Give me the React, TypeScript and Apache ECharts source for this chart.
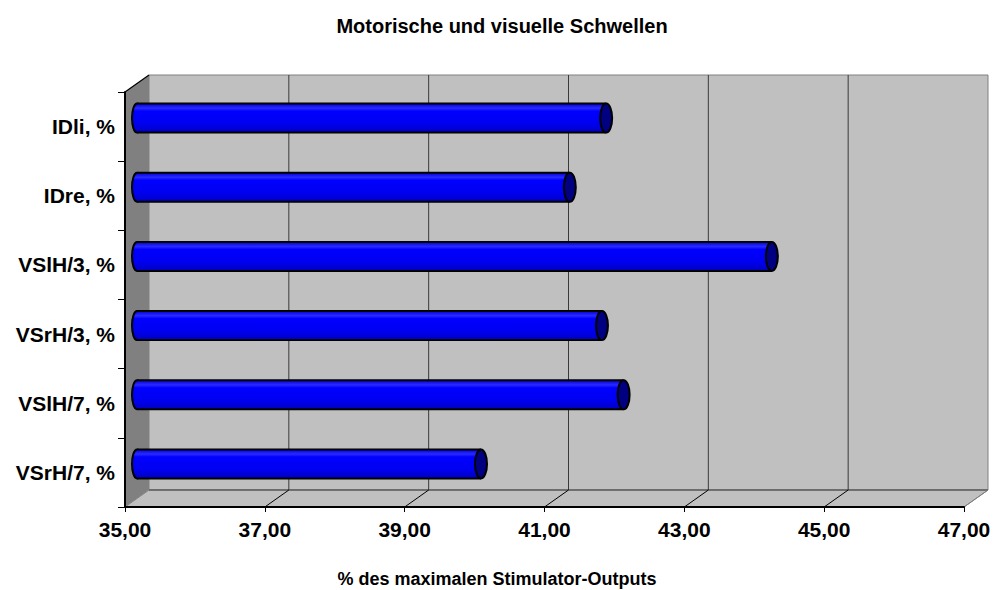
import React, { useEffect, useRef } from 'react';
import * as echarts from 'echarts';

// Threshold measurements per stimulation site (in % of max. stimulator output)
const categories = ['IDli, %', 'IDre, %', 'VSlH/3, %', 'VSrH/3, %', 'VSlH/7, %', 'VSrH/7, %'];
const thresholds = [41.71, 41.19, 44.08, 41.65, 41.96, 39.92];

// Value axis range
const X_MIN = 35;
const X_MAX = 47;
const X_STEP = 2;

const chartTitle = 'Motorische und visuelle Schwellen';
const axisTitle = '% des maximalen Stimulator-Outputs';

// Depth offset of the pseudo-3D box
const DX = 24;
const DY = -17;
const FONT = '"Liberation Sans", Arial, Helvetica, sans-serif';

const fmt = (v: number) => v.toFixed(2).replace('.', ',');

export default function App() {
  const ref = useRef<HTMLDivElement>(null);

  useEffect(() => {
    if (!ref.current) return;
    const chart = echarts.init(ref.current, undefined, { renderer: 'svg' });

    const barFill = new echarts.graphic.LinearGradient(0, 0, 0, 1, [
      { offset: 0, color: '#0000d8' },
      { offset: 0.16, color: '#2a2aff' },
      { offset: 0.26, color: '#0000ff' },
      { offset: 0.7, color: '#0000f0' },
      { offset: 1, color: '#0000c0' },
    ]);

    const option: any = {
      animation: false,
      backgroundColor: '#ffffff',
      grid: {
        left: 125,
        top: 92,
        width: 839,
        height: 415,
        containLabel: false,
        outerBoundsMode: 'none',
      },
      xAxis: {
        type: 'value',
        min: X_MIN,
        max: X_MAX,
        interval: X_STEP,
        z: 10,
        axisLine: { show: true, lineStyle: { color: '#000', width: 2 } },
        axisTick: { show: true, length: 5, lineStyle: { color: '#000', width: 1 } },
        splitLine: { show: false },
        axisLabel: {
          formatter: (v: number) => fmt(v),
          fontSize: 21,
          fontWeight: 'bold',
          fontFamily: FONT,
          color: '#000',
          margin: 12,
        },
      },
      yAxis: {
        type: 'category',
        data: categories,
        inverse: true,
        z: 10,
        axisLine: { show: true, lineStyle: { color: '#000', width: 2 } },
        axisTick: { show: true, length: 7, lineStyle: { color: '#000', width: 1 } },
        splitLine: { show: false },
        axisLabel: {
          fontSize: 21,
          fontWeight: 'bold',
          fontFamily: FONT,
          color: '#000',
          margin: 10,
        },
      },
      graphic: [
        {
          type: 'text',
          x: 502,
          y: 26,
          style: {
            text: chartTitle,
            font: `bold 20px ${FONT}`,
            fill: '#000',
            textAlign: 'center',
            textVerticalAlign: 'middle',
            align: 'center',
            verticalAlign: 'middle',
          },
        },
        {
          type: 'text',
          x: 497,
          y: 579,
          style: {
            text: axisTitle,
            font: `bold 18px ${FONT}`,
            fill: '#000',
            textAlign: 'center',
            textVerticalAlign: 'middle',
            align: 'center',
            verticalAlign: 'middle',
          },
        },
      ],
      series: [
        {
          // walls, floor and gridlines of the box
          type: 'custom',
          z: 1,
          silent: true,
          data: [[X_MIN, 0]],
          encode: { x: 0, y: 1 },
          renderItem: (_params: any, api: any) => {
            const band = api.size([0, 1])[1];
            const [xL, yTopC] = api.coord([X_MIN, 0]);
            const xR = api.coord([X_MAX, 0])[0];
            const yBotC = api.coord([X_MIN, categories.length - 1])[1];
            const top = yTopC - band / 2;
            const bot = yBotC + band / 2;
            const children: any[] = [];
            children.push({
              type: 'rect',
              shape: { x: xL + DX, y: top + DY, width: xR - xL, height: bot - top },
              style: { fill: '#c0c0c0', stroke: '#808080', lineWidth: 1 },
            });
            children.push({
              type: 'polygon',
              shape: { points: [[xL, top], [xL + DX, top + DY], [xL + DX, bot + DY], [xL, bot]] },
              style: { fill: '#808080' },
            });
            children.push({
              type: 'line',
              shape: { x1: xL, y1: top, x2: xL + DX, y2: top + DY },
              style: { stroke: '#000', lineWidth: 1.2 },
            });
            children.push({
              type: 'polygon',
              shape: { points: [[xL, bot], [xL + DX, bot + DY], [xR + DX, bot + DY], [xR, bot]] },
              style: { fill: '#c0c0c0', stroke: '#808080', lineWidth: 1 },
            });
            children.push({
              type: 'line',
              shape: { x1: xL + DX, y1: bot + DY, x2: xR + DX, y2: bot + DY },
              style: { stroke: '#606060', lineWidth: 1.5 },
            });
            for (let v = X_MIN + X_STEP; v <= X_MAX; v += X_STEP) {
              const x = api.coord([v, 0])[0];
              if (v < X_MAX) {
                children.push({
                  type: 'line',
                  shape: { x1: x + DX, y1: top + DY, x2: x + DX, y2: bot + DY },
                  style: { stroke: '#3a3a3a', lineWidth: 1 },
                });
              }
              children.push({
                type: 'line',
                shape: { x1: x, y1: bot, x2: x + DX, y2: bot + DY },
                style: { stroke: v < X_MAX ? '#000' : '#808080', lineWidth: 1 },
              });
            }
            return { type: 'group', children };
          },
        },
        {
          // cylinder bars
          type: 'custom',
          z: 3,
          data: thresholds.map((v, i) => [v, i]),
          encode: { x: 0, y: 1 },
          renderItem: (_params: any, api: any) => {
            const v = api.value(0);
            const c = api.value(1);
            const band = api.size([0, 1])[1];
            const h = band * 0.42;
            const [x0, yc] = api.coord([X_MIN, c]);
            const x1 = api.coord([v, c])[0];
            const cy = yc + DY / 2;
            const ax = x0 + DX / 2;
            const bx = x1 + DX / 2;
            const rx = 6;
            const y0 = cy - h / 2;
            const y1 = cy + h / 2;
            return {
              type: 'group',
              children: [
                {
                  type: 'ellipse',
                  shape: { cx: ax, cy, rx: 5, ry: h / 2 },
                  style: { fill: barFill, stroke: '#000', lineWidth: 2 },
                },
                {
                  type: 'rect',
                  shape: { x: ax, y: y0, width: bx - ax, height: h },
                  style: { fill: barFill },
                },
                {
                  type: 'line',
                  shape: { x1: ax, y1: y0, x2: bx, y2: y0 },
                  style: { stroke: '#000', lineWidth: 2 },
                },
                {
                  type: 'line',
                  shape: { x1: ax, y1: y1, x2: bx, y2: y1 },
                  style: { stroke: '#000', lineWidth: 2 },
                },
                {
                  type: 'ellipse',
                  shape: { cx: bx, cy, rx, ry: h / 2 },
                  style: { fill: '#000080', stroke: '#000', lineWidth: 2 },
                },
              ],
            };
          },
        },
      ],
    };

    chart.setOption(option);
    return () => chart.dispose();
  }, []);

  return (
    <div
      ref={ref}
      style={{ position: 'fixed', left: 0, top: 0, width: 994, height: 590, background: '#fff' }}
    />
  );
}
